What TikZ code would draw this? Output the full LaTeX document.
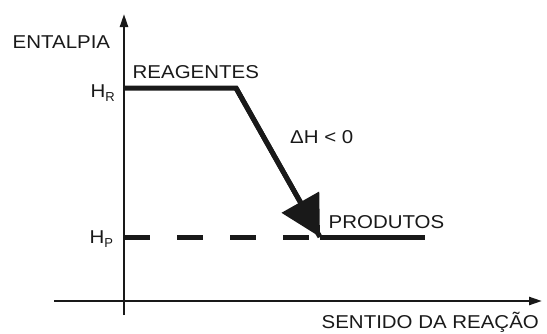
\documentclass[tikz,border=0pt]{standalone}
\usepackage{fontspec}
\setmainfont{Liberation Sans}
\usetikzlibrary{arrows.meta}
\newcommand{\lbltxt}[1]{\scalebox{1.1}[1]{\fontsize{18.6}{20}\selectfont #1}}
\newcommand{\subtxt}[1]{\raisebox{-4.5pt}{\fontsize{13}{13}\selectfont #1}}
\begin{document}
\begin{tikzpicture}[x=1pt,y=-1pt,
  lbl/.style={inner sep=0pt,anchor=base west,text=black!90},
  axis/.style={line width=2.3pt,draw=black!90,-{Triangle[length=13pt,width=8pt]}},
  level/.style={line width=5pt,draw=black!90},
  dlevel/.style={line width=5pt,draw=black!90,dash pattern=on 26pt off 27pt},
  bigarrow/.style={line width=5pt,draw=black!90,-{Triangle[length=40pt,width=42pt]}}]
\useasboundingbox (0,0) rectangle (547,333);
\coordinate (ybot) at (124,315);
\coordinate (ytop) at (124,14);
\coordinate (xl) at (54,301);
\coordinate (xr) at (542,301);
\coordinate (r0) at (124,88);
\coordinate (r1) at (236,88);
\coordinate (p0) at (124,237);
\coordinate (ptip) at (320,237);
\coordinate (p1) at (425,237);
\draw[axis] (ybot) -- (ytop);
\draw[axis] (xl) -- (xr);
\draw[level,line join=miter] (r0) -- (r1) -- (ptip);
\draw[bigarrow] (r1) -- (ptip);
\draw[dlevel] (p0) -- (ptip);
\draw[level] (ptip) -- (p1);
\node[lbl] (ent) at (12.5,48.5) {\lbltxt{ENTALPIA}};
\node[lbl] (rea) at (132.5,78.3) {\lbltxt{REAGENTES}};
\node[lbl] (dh) at (290,143.3) {\lbltxt{ΔH < 0}};
\node[lbl] (pro) at (328.5,228) {\lbltxt{PRODUTOS}};
\node[lbl] (sen) at (321.5,328) {\lbltxt{SENTIDO DA REAÇÃO}};
\node[lbl] (hr) at (90.5,97) {\lbltxt{H}\subtxt{R}};
\node[lbl] (hp) at (89.5,243) {\lbltxt{H}\subtxt{P}};
\end{tikzpicture}
\end{document}
